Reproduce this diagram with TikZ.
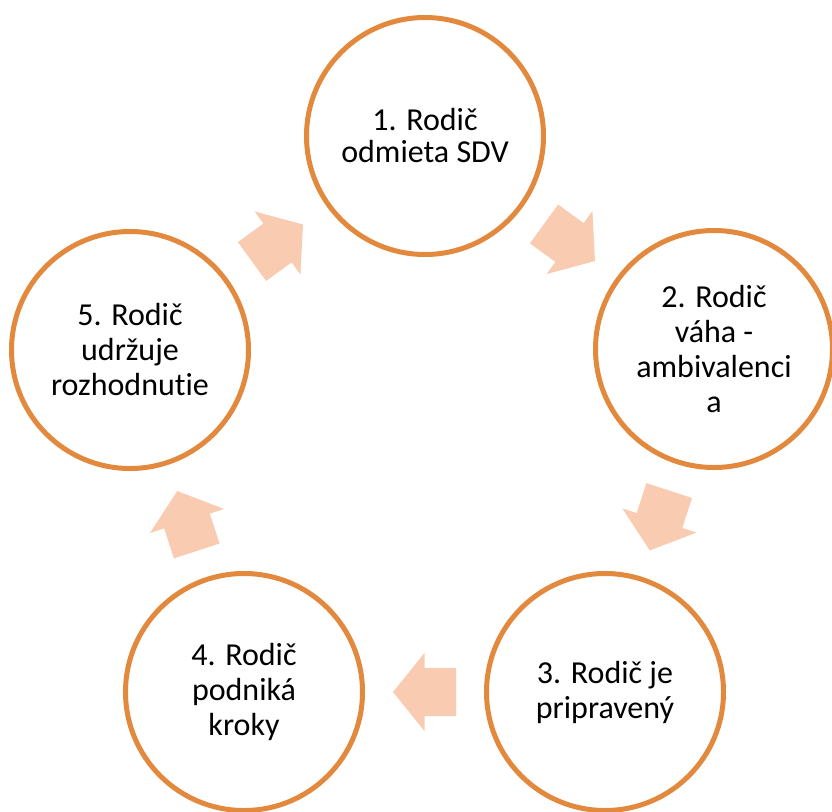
\documentclass[tikz,border=0pt]{standalone}
\usepackage{fontspec}
\setmainfont{Carlito}[Ligatures=NoCommon]
\usetikzlibrary{calc}
\definecolor{ringc}{HTML}{E2893E}
\definecolor{arrowc}{HTML}{F9CBB0}
\begin{document}
\begin{tikzpicture}[x=1pt,y=-1pt,
  stage/.style={circle, draw=ringc, line width=5pt, fill=white, minimum size=237pt,
    inner sep=0pt, align=center, text=black, font=\fontsize{32}{35}\selectfont},
  blockarrow/.style={fill=arrowc}]
\useasboundingbox (0,0) rectangle (832,811);
\coordinate (c1p) at (425,136);
\coordinate (c2p) at (714,349);
\coordinate (c3p) at (605,692);
\coordinate (c4p) at (244,692);
\coordinate (c5p) at (130,350);
% arrows
\foreach \a/\b/\r in {c1p/c2p/-36, c2p/c3p/-108, c3p/c4p/180, c4p/c5p/108, c5p/c1p/36}{
  \begin{scope}[shift={($(\a)!0.5!(\b)$)}, rotate=\r]
    \fill[blockarrow] (-31.5,-24) -- (0,-24) -- (0,-39) -- (31.5,0) -- (0,39) -- (0,24) -- (-31.5,24) -- cycle;
  \end{scope}
}
\node[stage, font=\fontsize{32}{32}\selectfont] (c1) at (c1p) {1. Rodič\\odmieta SDV};
\node[stage] (c2) at (c2p) {2. Rodič\\váha -\\ambivalenci\\a};
\node[stage] (c3) at (c3p) {3. Rodič je\\pripravený};
\node[stage] (c4) at (c4p) {4. Rodič\\podniká\\kroky};
\node[stage] (c5) at (c5p) {5. Rodič\\udržuje\\rozhodnutie};
\end{tikzpicture}
\end{document}
